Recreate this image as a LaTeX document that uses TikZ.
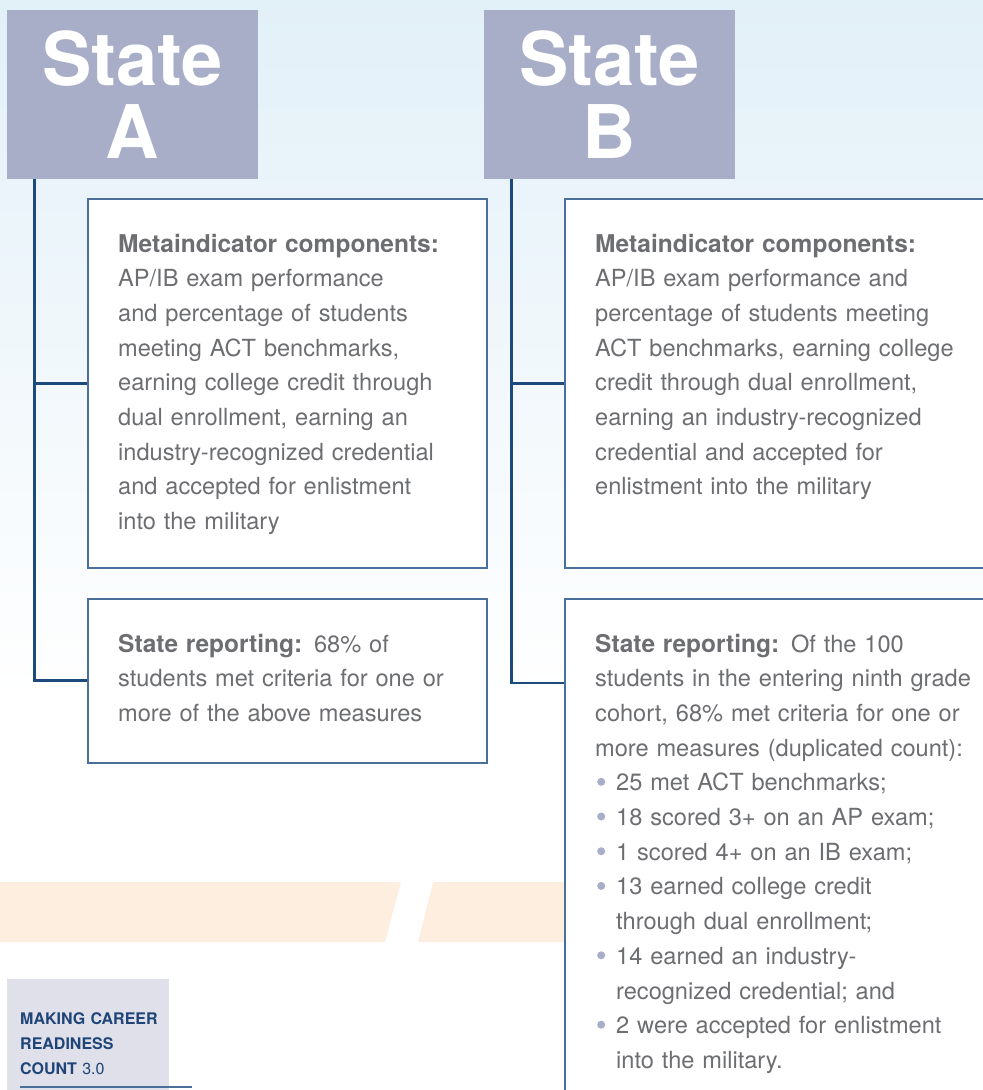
\documentclass[tikz,border=0pt]{standalone}
\usepackage{fontspec}
\setmainfont{TeX Gyre Heros}
\usetikzlibrary{calc}
\definecolor{skytop}{HTML}{E2F0F8}
\definecolor{statefill}{HTML}{A9AEC8}
\definecolor{spineblue}{HTML}{1D4A7C}
\definecolor{boxline}{HTML}{4A6F9B}
\definecolor{bodygray}{HTML}{6D6E71}
\definecolor{bandorange}{HTML}{FDEEDF}
\definecolor{tagfill}{HTML}{DFE0EA}
\definecolor{tagblue}{HTML}{1F4477}
\newcommand\bitem{\makebox[21bp][l]{\hspace{2bp}\raisebox{5bp}{\tikz\fill[statefill] (0,0) circle (4bp);}}}
\newcommand\bcont{\hspace*{21bp}}
\newcommand\lead[1]{{\fontsize{24.5bp}{34.7bp}\selectfont\bfseries #1}}
\begin{document}
\begin{tikzpicture}[x=1bp,y=1bp,yscale=-1,
  statebox/.style={fill=statefill,text=white,inner sep=0pt,minimum width=251bp,minimum height=169bp,align=center,font=\fontsize{74bp}{73bp}\selectfont\bfseries},
  infobox/.style={draw=boxline,line width=1.6bp,fill=white,inner sep=0pt,anchor=north west},
  infotext/.style={anchor=base west,inner sep=0pt,text width=390bp,align=left,text=bodygray,font=\fontsize{23.6bp}{34.7bp}\selectfont},
  spine/.style={draw=spineblue,line width=2.8bp}]
\clip (0,0) rectangle (983,1090);

%Shape: Background
\shade[top color=skytop,bottom color=white] (0,0) rectangle (983,700);
%Shape: Band
\fill[bandorange] (0,882) -- (401,882) -- (385,942) -- (0,942) -- cycle;
\fill[bandorange] (433,882) -- (575,882) -- (575,942) -- (418,942) -- cycle;

%Shape: State headers
\node[statebox] (stateA) at (132.5,94.5) {State\\A};
\node[statebox] (stateB) at (609.5,94.5) {State\\B};

%Shape: Boxes
\node[infobox,minimum width=399bp,minimum height=369bp] (metaA) at (87,198) {};
\node[infobox,minimum width=440bp,minimum height=369bp] (metaB) at (564,198) {};
\node[infobox,minimum width=399bp,minimum height=164bp] (reportA) at (87,598) {};
\node[infobox,minimum width=440bp,minimum height=520bp] (reportB) at (564,598) {};

%Straight Lines
\coordinate (spineA) at ($(stateA.south west)+(28,0)$);
\coordinate (spineB) at ($(stateB.south west)+(28,0)$);
\draw[spine] (spineA) |- (metaA.west);
\draw[spine] (spineA) |- (reportA.west);
\draw[spine] (spineB) |- (metaB.west);
\draw[spine] (spineB) |- ($(reportB.north west)+(0,85)$);

% Text Node
\node[infotext] (metaAtext) at (118,252) {\lead{Metaindicator components:}\\
AP/IB exam performance\\
and percentage of students\\
meeting ACT benchmarks,\\
earning college credit through\\
dual enrollment, earning an\\
industry-recognized credential\\
and accepted for enlistment\\
into the military};
% Text Node
\node[infotext] (metaBtext) at (595,252) {\lead{Metaindicator components:}\\
AP/IB exam performance and\\
percentage of students meeting\\
ACT benchmarks, earning college\\
credit through dual enrollment,\\
earning an industry-recognized\\
credential and accepted for\\
enlistment into the military};
% Text Node
\node[infotext] (reportAtext) at (118,652) {\lead{State reporting:} 68\% of\\
students met criteria for one or\\
more of the above measures};
% Text Node
\node[infotext] (reportBtext) at (595,652) {\lead{State reporting:} Of the 100\\
students in the entering ninth grade\\
cohort, 68\% met criteria for one or\\
more measures (duplicated count):\\
\bitem 25 met ACT benchmarks;\\
\bitem 18 scored 3+ on an AP exam;\\
\bitem 1 scored 4+ on an IB exam;\\
\bitem 13 earned college credit\\
\bcont through dual enrollment;\\
\bitem 14 earned an industry-\\
\bcont recognized credential; and\\
\bitem 2 were accepted for enlistment\\
\bcont into the military.};

%Shape: Tag
\node[fill=tagfill,inner sep=0pt,anchor=north west,minimum width=162bp,minimum height=120bp] (tag) at (7,979) {};
% Text Node
\node[anchor=base west,inner sep=0pt,text width=180bp,align=left,text=tagblue,font=\fontsize{16bp}{25bp}\selectfont\bfseries] (tagtext) at (20,1024) {MAKING CAREER\\
READINESS\\
COUNT {\mdseries 3.0}};
\draw[boxline,line width=1.5bp] (tagtext.west |- 0,1087) -- (192,1087);

\end{tikzpicture}
\end{document}
